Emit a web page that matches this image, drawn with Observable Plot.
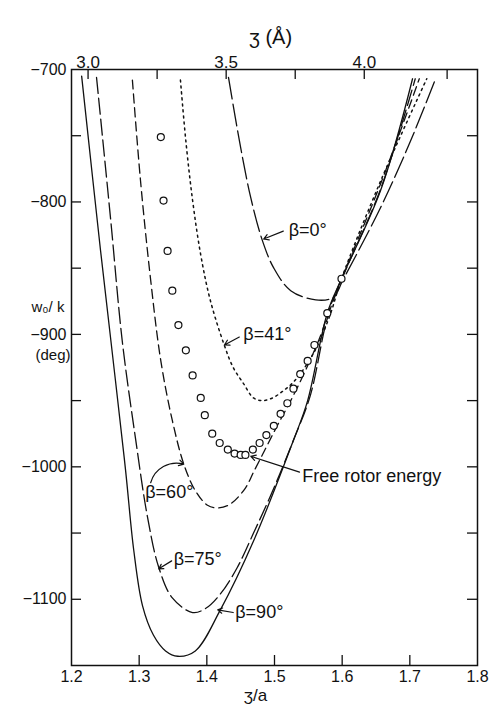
<!DOCTYPE html>
<html><head><meta charset="utf-8">
<script src="https://cdn.jsdelivr.net/npm/d3@7"></script>
<script src="https://cdn.jsdelivr.net/npm/@observablehq/plot@0.6"></script>
<style>body{margin:0;background:#fff} svg{font-family:"Liberation Sans",Arial,sans-serif}</style>
</head><body><div id="chart"></div>
<script>
// ---- axes / ticks ----
const xTicks = [1.2, 1.3, 1.4, 1.5, 1.6, 1.7, 1.8];
const xInnerTicks = [1.3, 1.4, 1.5, 1.6, 1.7];
const yTicks = [-700, -800, -900, -1000, -1100];
const yMinorTicks = [-750, -800, -850, -900, -950, -1000, -1050, -1100];
const angstromLabels = [3.0, 3.5, 4.0];
const angstromTicks = [3.0, 3.25, 3.5, 3.75, 4.0, 4.3];
const latticeA = 2.45; // z(Å) = (z/a) * a

// ---- curves: [z/a, w0/k] ----
const beta90 = [[1.215,-705],[1.243,-837],[1.265,-935],[1.280,-1003],[1.292,-1063],[1.305,-1105],[1.321,-1127],[1.339,-1139],[1.357,-1143],[1.383,-1139],[1.420,-1108],[1.469,-1056],[1.528,-980],[1.549,-950],[1.578,-884],[1.599,-858],[1.657,-791],[1.704,-707]];
const beta75 = [[1.237,-706],[1.258,-814],[1.275,-905],[1.295,-980],[1.312,-1037],[1.329,-1076],[1.349,-1099],[1.379,-1110],[1.398,-1107],[1.420,-1096],[1.445,-1076],[1.469,-1050],[1.494,-1022],[1.528,-980],[1.553,-946],[1.578,-888],[1.599,-859],[1.657,-790],[1.708,-707]];
const beta60 = [[1.290,-708],[1.302,-784],[1.317,-859],[1.332,-920],[1.349,-965],[1.366,-998],[1.383,-1018],[1.401,-1029],[1.416,-1031],[1.435,-1028],[1.457,-1016],[1.469,-1004],[1.487,-986],[1.504,-969],[1.524,-950],[1.546,-927],[1.568,-901],[1.583,-878],[1.599,-858],[1.657,-786],[1.714,-707]];
const beta41 = [[1.361,-708],[1.369,-754],[1.379,-799],[1.391,-840],[1.405,-874],[1.425,-907],[1.439,-925],[1.454,-937],[1.469,-948],[1.482,-950],[1.497,-948],[1.512,-943],[1.528,-936],[1.546,-924],[1.564,-908],[1.583,-884],[1.599,-858],[1.657,-784],[1.725,-707]];
const beta0 = [[1.432,-706],[1.450,-759],[1.465,-797],[1.482,-829],[1.499,-850],[1.524,-867],[1.561,-874],[1.587,-872],[1.601,-859],[1.657,-804],[1.701,-754],[1.738,-707]];
// free rotor energy points
const freeRotor = [[1.332,-751],[1.336,-799],[1.342,-837],[1.349,-867],[1.358,-893],[1.369,-912],[1.379,-931],[1.391,-948],[1.397,-961],[1.408,-975],[1.419,-982],[1.431,-987],[1.441,-990],[1.450,-991],[1.457,-991],[1.468,-987],[1.478,-982],[1.488,-976],[1.499,-969],[1.509,-960],[1.519,-952],[1.528,-941],[1.538,-930],[1.549,-920],[1.559,-908],[1.578,-884],[1.599,-858]];

// ---- annotations ----
const labels = [
  {t:"β=0°", x:1.521, y:-821},
  {t:"β=41°", x:1.454, y:-900},
  {t:"β=60°", x:1.309, y:-1019},
  {t:"β=75°", x:1.351, y:-1070},
  {t:"β=90°", x:1.442, y:-1110},
  {t:"Free rotor energy", x:1.541, y:-1007}
];
const arrows = [
  {x1:1.513, y1:-822, x2:1.484, y2:-828},
  {x1:1.448, y1:-902, x2:1.426, y2:-908},
  {x1:1.348, y1:-1071, x2:1.329, y2:-1077},
  {x1:1.439, y1:-1110, x2:1.416, y2:-1108},
  {x1:1.537, y1:-1004, x2:1.465, y2:-992}
];
const curvedArrows = [{x1:1.317, y1:-1012, x2:1.366, y2:-998}];

const W = 489, H = 708, mL = 71, mR = 12, mT = 69, mB = 43;
const iW = W - mL - mR, iH = H - mT - mB;
const ink = "#111";
const lineOpts = {x: d => d[0], y: d => d[1], stroke: ink, strokeWidth: 1.3, curve: "catmull-rom"};

const chart = Plot.plot({
  width: W, height: H,
  marginLeft: mL, marginRight: mR, marginTop: mT, marginBottom: mB,
  style: {fontSize: "17px", fontFamily: "'Liberation Sans', Arial, sans-serif", background: "#fff", color: ink},
  x: {domain: [1.2, 1.8]},
  y: {domain: [-1150, -700]},
  marks: [
    Plot.frame({stroke: ink, strokeWidth: 1.5}),
    // tick labels
    Plot.axisX(xTicks, {anchor: "bottom", tickSize: 0, tickPadding: 5, label: null, fontSize: 16, tickFormat: d => d.toFixed(1)}),
    Plot.axisY(yTicks, {anchor: "left", tickSize: 0, tickPadding: 5, label: null, fontSize: 16, tickFormat: d => "−" + Math.abs(d)}),
    Plot.axisX(angstromLabels.map(d => d / latticeA), {anchor: "top", tickSize: 0, tickPadding: 2, label: null, fontSize: 17, tickFormat: d => (d * latticeA).toFixed(1)}),
    // inward ticks
    Plot.tickY(yMinorTicks, {y: d => d, stroke: ink, strokeWidth: 1.3, insetRight: iW - 10}),
    Plot.tickY(yMinorTicks, {y: d => d, stroke: ink, strokeWidth: 1.3, insetLeft: iW - 10}),
    Plot.tickX(xInnerTicks, {x: d => d, stroke: ink, strokeWidth: 1.3, insetTop: iH - 10}),
    Plot.tickX(angstromTicks.map(d => d / latticeA), {x: d => d, stroke: ink, strokeWidth: 1.3, insetBottom: iH - 10}),
    // curves
    Plot.line(beta90, {...lineOpts}),
    Plot.line(beta75, {...lineOpts, strokeDasharray: "16,5"}),
    Plot.line(beta60, {...lineOpts, strokeDasharray: "9,5"}),
    Plot.line(beta41, {...lineOpts, strokeDasharray: "2,4", strokeWidth: 1.5}),
    Plot.line(beta0, {...lineOpts, strokeDasharray: "22,5"}),
    Plot.dot(freeRotor, {x: d => d[0], y: d => d[1], r: 3.5, stroke: ink, fill: "white", strokeWidth: 1.2}),
    // annotations
    Plot.text(labels, {x: "x", y: "y", text: "t", textAnchor: "start", fontSize: 18, fill: ink}),
    Plot.arrow(arrows, {x1: "x1", y1: "y1", x2: "x2", y2: "y2", stroke: ink, strokeWidth: 1.2, headLength: 7}),
    Plot.arrow(curvedArrows, {x1: "x1", y1: "y1", x2: "x2", y2: "y2", stroke: ink, strokeWidth: 1.2, headLength: 7, bend: 45}),
    // axis titles
    Plot.text(["ʒ (Å)"], {frameAnchor: "top", dx: -4, dy: -40, fontSize: 20, fill: ink}),
    Plot.text(["ʒ/a"], {frameAnchor: "bottom", dx: -19, dy: 35, fontSize: 17, fill: ink}),
    Plot.text(["w₀/ k"], {frameAnchor: "left", dx: -40, dy: -60, fontSize: 15, fill: ink}),
    Plot.text(["(deg)"], {frameAnchor: "left", dx: -36, dy: -12, fontSize: 15, fill: ink})
  ]
});
document.getElementById("chart").appendChild(chart);
</script></body></html>
